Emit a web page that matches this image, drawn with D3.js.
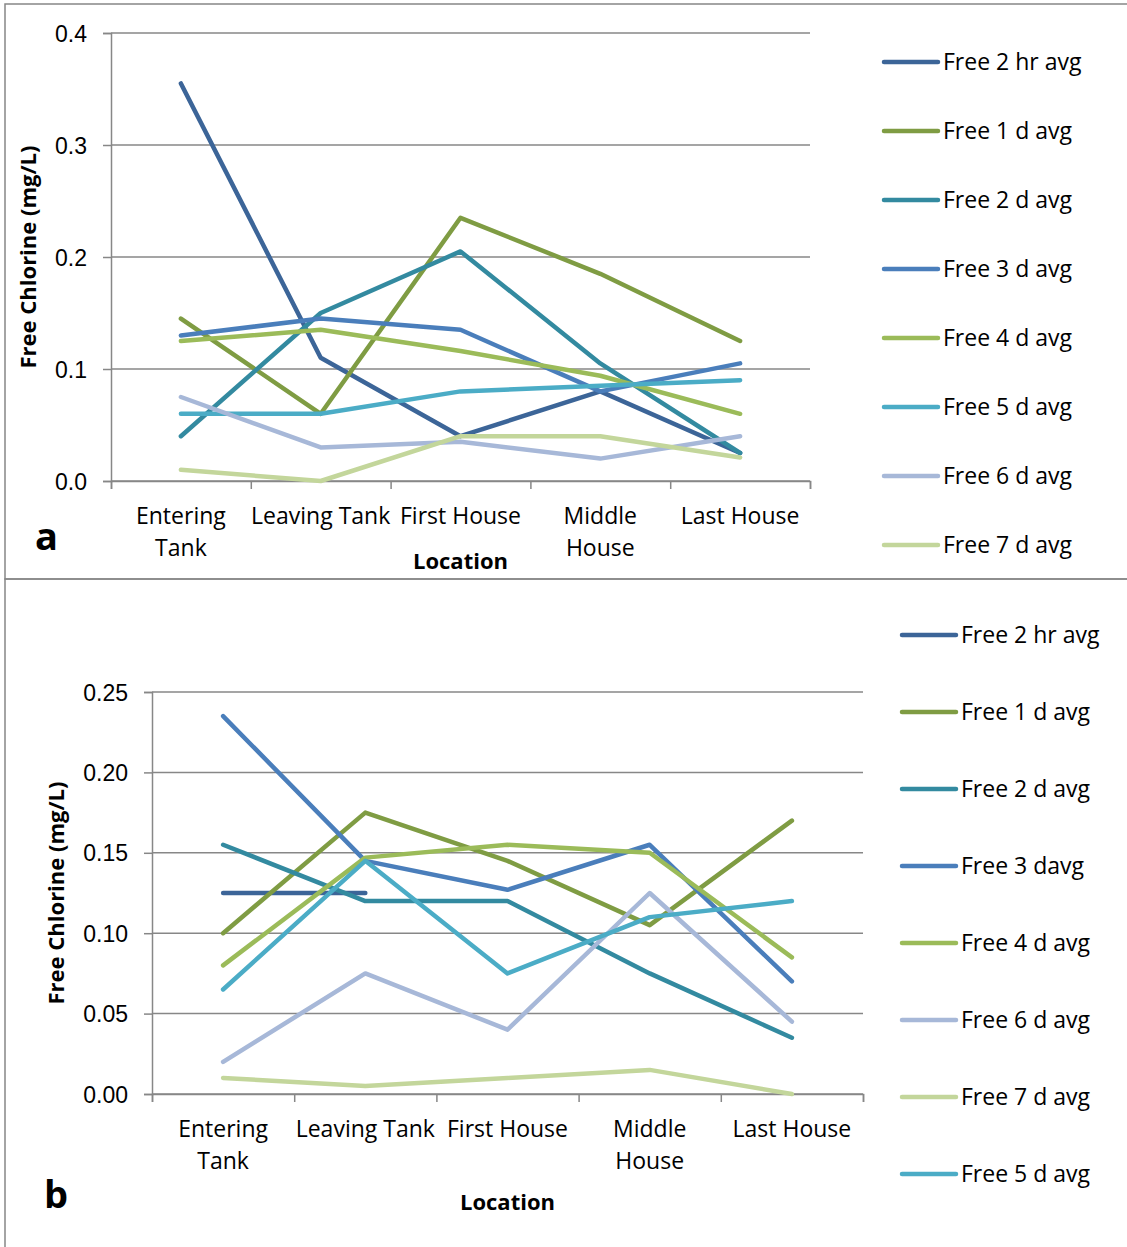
<!DOCTYPE html>
<html>
<head>
<meta charset="utf-8">
<script src="https://cdn.jsdelivr.net/npm/d3@7"></script>
<style>
  body { margin: 0; background: #fff; }
  svg { display: block; font-family: "Open Sans", Lato, sans-serif; }
</style>
</head>
<body>
<svg id="chart" width="1127" height="1247"></svg>
<script>
// categories shared by both panels
const locations = ["Entering Tank", "Leaving Tank", "First House", "Middle House", "Last House"];
const locationLines = [["Entering", "Tank"], ["Leaving Tank"], ["First House"], ["Middle", "House"], ["Last House"]];

// panel a values (mg/L)
const a2hr = [0.355, 0.11, 0.04, 0.08, 0.025];
const a1d = [0.145, 0.06, 0.235, 0.185, 0.125];
const a2d = [0.04, 0.15, 0.205, 0.105, 0.025];
const a3d = [0.13, 0.145, 0.135, 0.08, 0.105];
const a4d = [0.125, 0.135, 0.116, 0.094, 0.06];
const a5d = [0.06, 0.06, 0.08, 0.085, 0.09];
const a6d = [0.075, 0.03, 0.035, 0.02, 0.04];
const a7d = [0.01, 0.0, 0.04, 0.04, 0.021];
const aTicks = [0, 0.1, 0.2, 0.3, 0.4];

// panel b values (mg/L), null = no reading
const b2hr = [0.125, 0.125, null, null, null];
const b1d = [0.10, 0.175, 0.145, 0.105, 0.17];
const b2d = [0.155, 0.12, 0.12, 0.075, 0.035];
const b3d = [0.235, 0.145, 0.127, 0.155, 0.07];
const b4d = [0.08, 0.147, 0.155, 0.15, 0.085];
const b6d = [0.02, 0.075, 0.04, 0.125, 0.045];
const b7d = [0.01, 0.005, 0.01, 0.015, 0.0];
const b5d = [0.065, 0.145, 0.075, 0.11, 0.12];
const bTicks = [0, 0.05, 0.10, 0.15, 0.20, 0.25];

const col = {
  h2: "#3c6598", d1: "#7f9c43", d2: "#338aa0", d3: "#4a7ebb",
  d4: "#9bbb59", d5: "#4bacc6", d6: "#a7b8d8", d7: "#c3d69b"
};

const panelA = {
  series: [
    { name: "Free 2 hr avg", values: a2hr, color: col.h2 },
    { name: "Free 1 d avg", values: a1d, color: col.d1 },
    { name: "Free 2 d avg", values: a2d, color: col.d2 },
    { name: "Free 3 d avg", values: a3d, color: col.d3 },
    { name: "Free 4 d avg", values: a4d, color: col.d4 },
    { name: "Free 5 d avg", values: a5d, color: col.d5 },
    { name: "Free 6 d avg", values: a6d, color: col.d6 },
    { name: "Free 7 d avg", values: a7d, color: col.d7 }
  ],
  ticks: aTicks, fmt: d3.format(".1f"),
  box: { x: 5, y: 4, h: 575 },
  plot: { left: 111, right: 810, top: 33, bottom: 481 },
  yTitle: { x: 36, y: 257 },
  xTitle: { y: 569 },
  letter: { text: "a", x: 35, y: 550 },
  legend: { x: 884, y0: 62, step: 69 }
};

const panelB = {
  series: [
    { name: "Free 2 hr avg", values: b2hr, color: col.h2 },
    { name: "Free 1 d avg", values: b1d, color: col.d1 },
    { name: "Free 2 d avg", values: b2d, color: col.d2 },
    { name: "Free 3 davg", values: b3d, color: col.d3 },
    { name: "Free 4 d avg", values: b4d, color: col.d4 },
    { name: "Free 6 d avg", values: b6d, color: col.d6 },
    { name: "Free 7 d avg", values: b7d, color: col.d7 },
    { name: "Free 5 d avg", values: b5d, color: col.d5 }
  ],
  ticks: bTicks, fmt: d3.format(".2f"),
  box: { x: 5, y: 579, h: 680 },
  plot: { left: 152, right: 863, top: 692, bottom: 1094 },
  yTitle: { x: 64, y: 893 },
  xTitle: { y: 1210 },
  letter: { text: "b", x: 44, y: 1208 },
  legend: { x: 902, y0: 635, step: 77 }
};

const svg = d3.select("#chart");
const gray = "#878787";

function drawPanel(p) {
  const g = svg.append("g");

  // frame around the panel
  g.append("rect")
    .attr("x", p.box.x).attr("y", p.box.y)
    .attr("width", 1200).attr("height", p.box.h)
    .attr("fill", "none").attr("stroke", gray).attr("stroke-width", 1.5);

  const y = d3.scaleLinear()
    .domain([0, d3.max(p.ticks)])
    .range([p.plot.bottom, p.plot.top]);
  const x = d3.scaleBand()
    .domain(locations)
    .range([p.plot.left, p.plot.right]);
  const xEdge = d3.scaleLinear()
    .domain([0, locations.length])
    .range([p.plot.left, p.plot.right]);
  const cx = d => x(d) + x.bandwidth() / 2;

  // gridlines
  g.append("g").selectAll("line")
    .data(p.ticks)
    .enter().append("line")
    .attr("x1", p.plot.left).attr("x2", p.plot.right)
    .attr("y1", d => y(d)).attr("y2", d => y(d))
    .attr("stroke", gray).attr("stroke-width", 1.5);

  // y axis
  const yAxis = g.append("g")
    .attr("transform", `translate(${p.plot.left},0)`)
    .call(d3.axisLeft(y).tickValues(p.ticks).tickFormat(p.fmt).tickSize(8).tickPadding(16));
  yAxis.select(".domain").attr("stroke", gray).attr("stroke-width", 1.5);
  yAxis.selectAll(".tick line").attr("stroke", gray).attr("stroke-width", 1.5);
  yAxis.selectAll("text").attr("font-size", 23).attr("fill", "#000").attr("dy", "0.35em");

  // x axis with tick marks between categories
  const xAxis = g.append("g")
    .attr("transform", `translate(0,${p.plot.bottom})`)
    .call(d3.axisBottom(xEdge).ticks(locations.length).tickSize(8).tickFormat(""));
  xAxis.select(".domain").attr("stroke", gray).attr("stroke-width", 1.5);
  xAxis.selectAll(".tick line").attr("stroke", gray).attr("stroke-width", 1.5);

  // category labels
  const labels = g.append("g").selectAll("text")
    .data(locations)
    .enter().append("text")
    .attr("x", d => cx(d))
    .attr("y", p.plot.bottom + 43)
    .attr("text-anchor", "middle")
    .attr("font-size", 23);
  labels.each(function (d, i) {
    d3.select(this).selectAll("tspan")
      .data(locationLines[i])
      .enter().append("tspan")
      .attr("x", cx(d))
      .attr("dy", (t, j) => j === 0 ? 0 : 32)
      .text(t => t);
  });

  // titles
  g.append("text")
    .attr("transform", `translate(${p.yTitle.x},${p.yTitle.y}) rotate(-90)`)
    .attr("text-anchor", "middle")
    .attr("font-size", 22).attr("font-weight", "bold")
    .text("Free Chlorine (mg/L)");
  g.append("text")
    .attr("x", (p.plot.left + p.plot.right) / 2).attr("y", p.xTitle.y)
    .attr("text-anchor", "middle")
    .attr("font-size", 22).attr("font-weight", "bold")
    .text("Location");
  g.append("text")
    .attr("x", p.letter.x).attr("y", p.letter.y)
    .attr("font-size", 38).attr("font-weight", "bold")
    .text(p.letter.text);

  // series lines
  const line = d3.line()
    .defined(d => d.v !== null)
    .x(d => cx(d.loc))
    .y(d => y(d.v));
  g.append("g").selectAll("path")
    .data(p.series)
    .enter().append("path")
    .attr("d", s => line(s.values.map((v, i) => ({ loc: locations[i], v: v }))))
    .attr("fill", "none")
    .attr("stroke", s => s.color)
    .attr("stroke-width", 4.5)
    .attr("stroke-linejoin", "round")
    .attr("stroke-linecap", "round");

  // legend
  const leg = g.append("g").selectAll("g")
    .data(p.series)
    .enter().append("g")
    .attr("transform", (s, i) => `translate(${p.legend.x},${p.legend.y0 + i * p.legend.step})`);
  leg.append("line")
    .attr("x1", 0).attr("x2", 54)
    .attr("stroke", s => s.color).attr("stroke-width", 4.5)
    .attr("stroke-linecap", "round");
  leg.append("text")
    .attr("x", 59).attr("dy", "0.35em")
    .attr("font-size", 23)
    .text(s => s.name);
}

drawPanel(panelA);
drawPanel(panelB);
</script>
</body>
</html>
